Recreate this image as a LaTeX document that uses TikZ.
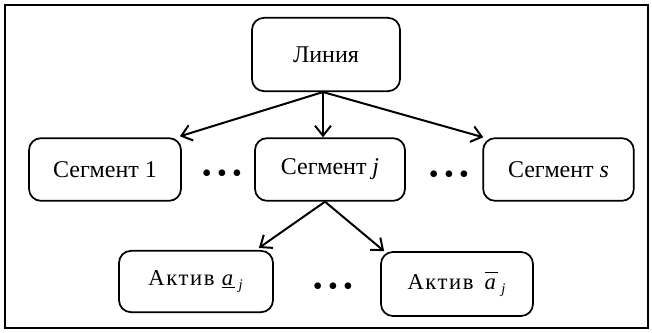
\documentclass[tikz,border=0pt]{standalone}
\usepackage{fontspec}
\setmainfont{Liberation Serif}
\usetikzlibrary{arrows.meta,calc}
\tikzset{
  box/.style={draw, line width=1.3pt, rounded corners=9pt, inner sep=0pt, align=center},
  segbox/.style={box, minimum height=47pt},
  conn/.style={line width=1.5pt, -{Straight Barb[length=7.5pt,width=12pt,line width=1.5pt]}},
  dots/.style={inner sep=0pt, font=\fontsize{21pt}{21pt}\selectfont},
}
\newcommand{\actfont}{\fontsize{17pt}{20pt}\selectfont\addfontfeature{LetterSpace=7}}
\begin{document}
\begin{tikzpicture}[x=0.75pt, y=-0.75pt]
\useasboundingbox (0,0) rectangle (652,332);
\draw[line width=2pt] (5,5) rectangle (648,328);

\node[box, minimum width=111pt, minimum height=55pt, font=\fontsize{18pt}{20pt}\selectfont] (L) at (326,54.5) {Линия};

\node[segbox, minimum width=114pt, font=\fontsize{18pt}{20pt}\selectfont] (S1) at (105,169.5) {Сегмент 1};
\node[segbox, minimum width=112.5pt, font=\fontsize{18pt}{20pt}\selectfont] (Sj) at (330,169.5) {Сегмент \textit{j}};
\node[segbox, minimum width=113pt, font=\fontsize{18pt}{20pt}\selectfont] (Ss) at (558.5,169.5) {Сегмент \textit{s}};

\node[box, minimum width=115.5pt, minimum height=46pt] (A1) at (196,281.5) {\actfont Актив \underline{\textit{a}}\,\raisebox{-0.35ex}{\fontsize{11pt}{11pt}\selectfont\textit{j}}};
\node[box, minimum width=114pt, minimum height=48pt] (A2) at (457,284) {\actfont Актив \,$\overline{\mbox{\fontsize{17pt}{20pt}\selectfont\textit{a}\vphantom{A}}}$\,\raisebox{-0.35ex}{\fontsize{11pt}{11pt}\selectfont\textit{j}}};

\node[dots] (d1) at (222,176) {•\hspace{4pt}•\hspace{4pt}•};
\node[dots] (d2) at (449,177) {•\hspace{4pt}•\hspace{4pt}•};
\node[dots] (d3) at (333,289) {•\hspace{4pt}•\hspace{4pt}•};

\coordinate (Lb) at ($(L.south)+(-3,0)$);
\coordinate (Sjb) at ($(Sj.south)+(-5,0)$);
\draw[conn] (Lb) -- ($(S1.north east)+(-2,-1)$);
\draw[conn] (Lb) -- (Lb |- Sj.north);
\draw[conn] (Lb) -- ($(Ss.north west)+(1,0)$);
\draw[conn] (Sjb) -- ($(A1.north east)+(-15,-2)$);
\draw[conn] (Sjb) -- ($(A2.north west)+(4,0)$);
\end{tikzpicture}
\end{document}
